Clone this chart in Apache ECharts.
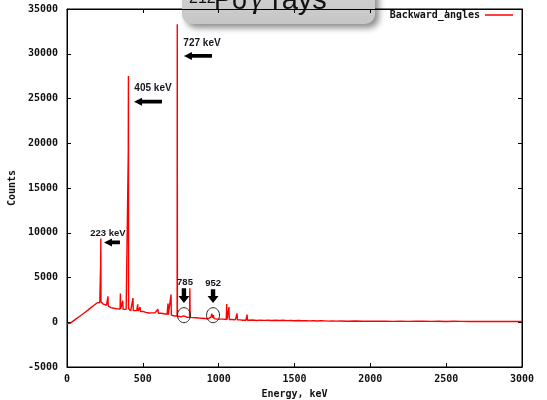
<!DOCTYPE html>
<html>
<head>
<meta charset="utf-8">
<script src="https://cdn.jsdelivr.net/npm/echarts@6/dist/echarts.min.js"></script>
<style>
  html, body { margin: 0; padding: 0; background: #fff; }
  #chart { width: 547px; height: 400px; }
</style>
</head>
<body>
<div id="chart"></div>
<script>
// Gamma spectrum, backward angles: [energy keV, counts]
const spectrumLow = [
  [0, -150], [10, -200], [20, -120], [30, 40], [40, 120], [50, 240], [60, 380], [70, 460],
  [80, 620], [90, 700], [100, 860], [110, 940], [120, 1120], [130, 1230], [140, 1380],
  [150, 1480], [160, 1660], [170, 1780], [180, 1920], [190, 2040], [200, 2180], [210, 2260],
  [216, 2200], [221, 2320], [222, 6600], [223, 9350], [224, 2300], [230, 2150], [240, 2020],
  [250, 1800], [260, 1900], [268, 1850], [270, 2900], [272, 1800], [280, 1720], [290, 1640],
  [300, 1700], [310, 1560], [320, 1620], [330, 1500], [340, 1560], [350, 1480], [352, 3200],
  [354, 1500], [360, 1440], [366, 1460], [368, 2400], [370, 1440], [380, 1400], [390, 1460],
  [400, 1380], [403, 1420], [404, 19000], [405, 27500], [406, 1500], [410, 1350], [420, 1300],
  [430, 1360], [435, 2700], [437, 1300], [440, 1320], [450, 1240], [460, 1300], [466, 2000],
  [468, 1250], [480, 1260], [482, 1700], [484, 1200], [490, 1150], [500, 1220], [510, 1140],
  [520, 1100], [530, 1160], [540, 1040], [550, 1100], [560, 1050], [570, 990], [580, 1060],
  [590, 1000], [600, 1450], [602, 1000], [610, 950], [620, 1010], [630, 900], [640, 950],
  [650, 860], [660, 900], [666, 2100], [668, 850], [680, 860], [686, 3100], [688, 800]
];
const spectrumMid = [
  [700, 760], [710, 700], [720, 720], [726, 700], [727, 33300], [728, 700], [740, 650],
  [750, 600], [760, 660], [770, 720], [775, 920], [780, 620], [790, 560], [800, 560],
  [808, 550], [810, 3800], [812, 550], [820, 500], [830, 520], [840, 450], [850, 500],
  [860, 450], [870, 470], [880, 400], [890, 450], [900, 400], [910, 420], [920, 400],
  [930, 380], [940, 410], [950, 600], [955, 950], [960, 500], [965, 800], [970, 400],
  [980, 380], [990, 350], [1000, 380], [1010, 350], [1020, 320], [1030, 350], [1040, 300],
  [1050, 310], [1053, 2050], [1055, 300], [1065, 300], [1068, 1700], [1070, 300], [1080, 280],
  [1090, 300], [1100, 280], [1110, 260], [1118, 260], [1121, 1000], [1124, 260], [1130, 250],
  [1140, 260], [1150, 240], [1160, 230], [1170, 250], [1180, 230], [1187, 850], [1190, 230]
];
const spectrumHigh = [
  [1200, 220], [1225, 250], [1250, 200], [1275, 240], [1300, 210], [1325, 230], [1350, 190],
  [1375, 220], [1400, 200], [1425, 230], [1450, 180], [1475, 200], [1500, 170], [1525, 190],
  [1550, 160], [1575, 180], [1600, 150], [1625, 170], [1650, 140], [1675, 160], [1700, 150],
  [1725, 130], [1750, 150], [1775, 130], [1800, 140], [1850, 120], [1900, 140], [1950, 110],
  [2000, 130], [2050, 110], [2100, 120], [2150, 100], [2200, 120], [2250, 100], [2300, 110],
  [2350, 120], [2400, 100], [2450, 110], [2500, 90], [2550, 110], [2600, 100], [2650, 90],
  [2700, 100], [2750, 90], [2800, 100], [2850, 80], [2900, 90], [2950, 80], [3000, 90]
];
const seriesName = 'Backward_angles';
const xRange = [0, 3000];
const xStep = 500;
const yRange = [-5000, 35000];
const yStep = 5000;

const spectrum = spectrumLow.concat(spectrumMid, spectrumHigh);

const monoFont = '"DejaVu Sans Mono", monospace';
const labelStyle = { fontFamily: monoFont, fontWeight: 'bold', fontSize: 10, color: '#111' };
const plainNumber = v => String(v);

const chart = echarts.init(document.getElementById('chart'), null, { renderer: 'canvas' });

function axisCommon(extra) {
  return Object.assign({
    type: 'value',
    show: true,
    axisLine: { show: true, onZero: false, lineStyle: { color: '#000', width: 1 } },
    axisTick: { show: true, inside: true, length: 4, lineStyle: { color: '#000', width: 1 } },
    splitLine: { show: false }
  }, extra);
}

chart.setOption({
  animation: false,
  backgroundColor: '#fff',
  grid: { left: 67, right: 25, top: 9, bottom: 33, outerBoundsMode: 'none', containLabel: false,
    show: true, borderColor: '#000', borderWidth: 1, backgroundColor: 'transparent' },
  legend: {
    data: [seriesName], right: 34, top: 10, padding: 0, align: 'right',
    icon: 'rect', itemWidth: 28, itemHeight: 1.5, itemGap: 5,
    textStyle: Object.assign({}, labelStyle, { padding: [0, 0, 0, 0] })
  },
  xAxis: [
    axisCommon({ min: xRange[0], max: xRange[1], interval: xStep, position: 'bottom',
      name: 'Energy, keV', nameLocation: 'middle', nameGap: 22, nameTextStyle: labelStyle,
      axisLabel: Object.assign({ margin: 7, formatter: plainNumber }, labelStyle) }),
    axisCommon({ min: xRange[0], max: xRange[1], interval: xStep, position: 'top',
      axisLabel: { show: false } })
  ],
  yAxis: [
    axisCommon({ min: yRange[0], max: yRange[1], interval: yStep, position: 'left',
      name: 'Counts', nameLocation: 'middle', nameGap: 49, nameTextStyle: labelStyle,
      axisLabel: Object.assign({ margin: 9, formatter: plainNumber }, labelStyle) }),
    axisCommon({ min: yRange[0], max: yRange[1], interval: yStep, position: 'right',
      axisLabel: { show: false } })
  ],
  series: [
    {
      name: seriesName, type: 'line', data: spectrum, showSymbol: false, symbol: 'none',
      sampling: false, xAxisIndex: 0, yAxisIndex: 0,
      lineStyle: { color: '#ff0000', width: 1.4 }, itemStyle: { color: '#ff0000' }
    },
    // empty series bound to the mirror axes so their ticks are drawn
    { type: 'line', data: [], xAxisIndex: 1, yAxisIndex: 1, silent: true }
  ]
});

// Peak annotations placed in data coordinates
function px(e, c) { return chart.convertToPixel({ xAxisIndex: 0, yAxisIndex: 0 }, [e, c]); }

function leftArrow(tipE, tailE, c) {
  const tip = px(tipE, c), tail = px(tailE, c);
  const x0 = tip[0], x1 = tail[0], y = tip[1];
  return { type: 'polygon', silent: true, z: 50,
    shape: { points: [[x0, y], [x0 + 8, y - 4], [x0 + 8, y - 1.8], [x1, y - 1.8], [x1, y + 1.8], [x0 + 8, y + 1.8], [x0 + 8, y + 4]] },
    style: { fill: '#000' } };
}
function downArrow(e, cTop, cTip) {
  const top = px(e, cTop), tip = px(e, cTip);
  const x = top[0], y0 = top[1], y1 = tip[1];
  return { type: 'polygon', silent: true, z: 50,
    shape: { points: [[x - 2.2, y0], [x + 2.2, y0], [x + 2.2, y1 - 7], [x + 5.5, y1 - 7], [x, y1], [x - 5.5, y1 - 7], [x - 2.2, y1 - 7]] },
    style: { fill: '#000' } };
}
function note(text, e, c, size) {
  const p = px(e, c);
  return { type: 'text', silent: true, z: 50, x: p[0], y: p[1],
    style: { text: text, font: 'bold ' + size + 'px "Liberation Sans", Arial, sans-serif', fill: '#151520', align: 'center', verticalAlign: 'middle' } };
}
function ring(e, c) {
  const p = px(e, c);
  return { type: 'ellipse', silent: true, z: 50, shape: { cx: p[0], cy: p[1], rx: 6.5, ry: 7.5 },
    style: { fill: 'none', stroke: '#222', lineWidth: 1 } };
}

chart.setOption({
  graphic: [
    note('223 keV', 270, 9930, 9.5),
    leftArrow(244, 349, 8920),
    note('405 keV', 567, 26200, 10),
    leftArrow(442, 626, 24650),
    note('727 keV', 890, 31200, 10),
    leftArrow(771, 956, 29760),
    note('785', 778, 4460, 9.5),
    downArrow(771, 3800, 2150),
    note('952', 963, 4350, 9.5),
    downArrow(963, 3700, 2150),
    ring(771, 790),
    ring(963, 790),
    { type: 'group', z: 100, children: [
      { type: 'rect', shape: { x: 182, y: -25, width: 193, height: 49, r: 10 },
        style: { fill: { type: 'linear', x: 0, y: 0, x2: 0, y2: 1,
          colorStops: [{ offset: 0, color: '#d6d6d6' }, { offset: 1, color: '#c6c6c6' }] },
          shadowBlur: 6, shadowOffsetX: 4, shadowOffsetY: 4, shadowColor: 'rgba(0,0,0,0.45)' } },
      { type: 'text', x: 189, y: 7, style: { text: '212', font: '16px "Liberation Sans", sans-serif', fill: '#111', verticalAlign: 'bottom' } },
      { type: 'text', x: 214, y: 15, style: { text: 'Po', font: '27px "Liberation Sans", sans-serif', fill: '#111', verticalAlign: 'bottom' } },
      { type: 'text', x: 251, y: 15, style: { text: 'γ', font: 'italic 30px "Liberation Serif", serif', fill: '#111', verticalAlign: 'bottom' } },
      { type: 'text', x: 272, y: 15, style: { text: 'rays', font: '29px "Liberation Sans", sans-serif', fill: '#111', verticalAlign: 'bottom' } }
    ] }
  ]
});
</script>
</body>
</html>
